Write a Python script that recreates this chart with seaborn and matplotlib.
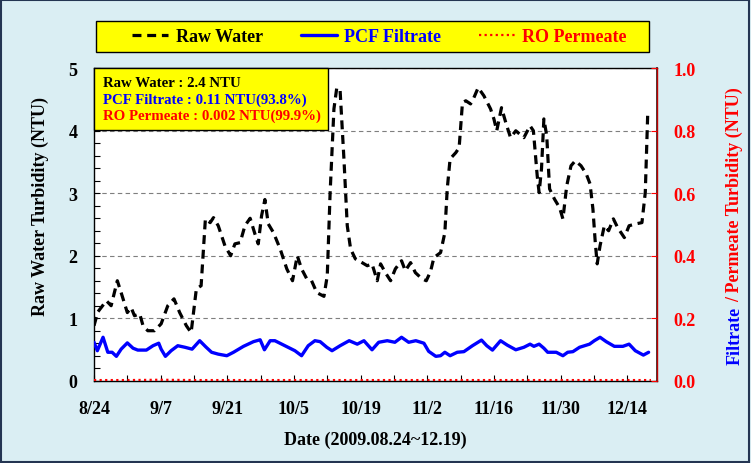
import numpy as np
import pandas as pd
import matplotlib
matplotlib.use("Agg")
import matplotlib.pyplot as plt
import seaborn as sns
from matplotlib.lines import Line2D
from matplotlib.patches import Rectangle
from matplotlib.ticker import MultipleLocator
from matplotlib.font_manager import FontProperties

# ---------------- data ----------------
start_date = "2009-08-24"

raw_days = [0, 0.8, 2.6, 3.6, 4.9, 5.7, 7.0, 7.8, 8.5, 9.6,
            10.3, 11.3, 12.7, 14.1, 15.5, 16.8, 18.0, 19.4, 20.4, 21.5,
            22.5, 23.4, 24.4, 25.1, 26.1, 27.5, 28.7, 29.6, 30.7, 31.7,
            32.8, 33.8, 34.5, 35.2, 35.9, 36.6, 37.7, 39.1, 40.5, 41.7,
            42.7, 43.6, 44.7, 45.7, 46.8, 48.3, 49.0, 49.6, 50.4, 51.0,
            51.7, 52.5, 53.2, 53.9, 54.9, 56.3, 57.4, 58.4, 59.5, 60.2,
            61.2, 62.3, 63.3, 64.6, 65.4, 66.5, 67.5, 68.9, 69.8, 70.7,
            71.4, 72.8, 73.7, 74.2, 74.8, 76.0, 76.7, 77.4, 78.1, 79.1,
            79.8, 80.7, 81.9, 83.3, 84.0, 84.6, 85.6, 86.5, 87.5, 88.6,
            90.3, 91.6, 92.3, 93.1, 93.5, 94.0, 94.5, 95.1, 95.7, 96.7,
            97.8, 98.5, 99.3, 100.2, 101.1, 102.3, 103.4, 104.2, 104.8, 105.3,
            105.7, 106.3, 107.2, 108.1, 109.1, 110.0, 111.4, 112.4, 113.8, 115.1,
            115.8, 116.3]
raw_ntu = [0.88, 1.1, 1.28, 1.2, 1.6, 1.41, 1.09, 1.17, 1.04, 1.07,
           0.88, 0.8, 0.8, 0.91, 1.2, 1.31, 1.09, 0.88, 0.77, 1.47,
           1.52, 2.59, 2.53, 2.61, 2.48, 2.16, 2.0, 2.19, 2.21, 2.48,
           2.6, 2.35, 2.19, 2.64, 2.9, 2.51, 2.37, 2.11, 1.79, 1.6,
           2.0, 1.79, 1.63, 1.6, 1.41, 1.35, 1.68, 3.01, 4.35, 4.69,
           4.64, 3.55, 2.48, 2.11, 1.95, 1.89, 1.84, 1.87, 1.6, 1.87,
           1.73, 1.6, 1.79, 1.92, 1.76, 1.89, 1.73, 1.63, 1.6, 1.75,
           1.97, 2.05, 2.37, 3.07, 3.55, 3.65, 3.73, 4.45, 4.48, 4.43,
           4.53, 4.69, 4.56, 4.35, 4.19, 4.0, 4.37, 4.13, 3.89, 4.0,
           3.89, 4.08, 4.0, 3.28, 3.01, 3.39, 4.19, 3.92, 3.07, 2.91,
           2.77, 2.59, 3.12, 3.44, 3.52, 3.44, 3.31, 3.15, 2.75, 2.21,
           1.87, 2.16, 2.48, 2.4, 2.59, 2.45, 2.29, 2.48, 2.51, 2.53,
           3.01, 4.24]

pcf_days = [0, 0.7, 1.9, 2.9, 3.8, 4.7, 5.7, 7.0, 8.2, 9.2,
            11.0, 12.4, 13.6, 14.1, 15.0, 16.2, 17.6, 19.1, 20.6, 22.2,
            23.5, 24.7, 26.1, 27.9, 29.3, 31.4, 33.5, 34.9, 35.8, 37.0,
            38.0, 40.1, 42.2, 43.6, 45.0, 46.4, 47.5, 48.9, 50.0, 51.7,
            53.6, 55.3, 56.7, 58.4, 59.8, 61.6, 63.2, 64.6, 66.1, 67.6,
            69.3, 70.3, 71.8, 72.8, 73.7, 74.8, 76.3, 77.7, 79.5, 81.4,
            82.5, 83.7, 85.4, 86.8, 88.6, 90.3, 91.6, 92.4, 93.5, 94.5,
            95.3, 97.1, 98.5, 99.5, 100.6, 102.0, 104.1, 105.1, 106.3, 107.6,
            109.3, 111.1, 112.4, 113.7, 115.4, 116.5]
pcf_ntu = [0.123, 0.096, 0.139, 0.091, 0.091, 0.078, 0.101, 0.121, 0.104, 0.098,
           0.098, 0.112, 0.120, 0.101, 0.078, 0.096, 0.112, 0.107, 0.101, 0.128,
           0.108, 0.091, 0.085, 0.080, 0.091, 0.110, 0.125, 0.131, 0.099, 0.128,
           0.128, 0.112, 0.096, 0.080, 0.112, 0.128, 0.125, 0.107, 0.096, 0.112,
           0.128, 0.117, 0.128, 0.099, 0.123, 0.128, 0.123, 0.139, 0.123, 0.128,
           0.120, 0.094, 0.078, 0.080, 0.091, 0.080, 0.091, 0.093, 0.112, 0.130,
           0.112, 0.098, 0.128, 0.114, 0.099, 0.107, 0.117, 0.110, 0.117, 0.104,
           0.091, 0.091, 0.080, 0.091, 0.093, 0.107, 0.117, 0.128, 0.139, 0.125,
           0.110, 0.110, 0.117, 0.096, 0.082, 0.091]

ro_days = [0, 7, 14, 21, 28, 35, 42, 49, 56, 63, 70, 77, 84, 91, 98, 105, 112, 117]
ro_ntu = [0.002, 0.002, 0.003, 0.002, 0.002, 0.002, 0.002, 0.002, 0.002,
          0.002, 0.002, 0.002, 0.002, 0.002, 0.002, 0.002, 0.002, 0.002]

series_names = ["Raw Water", "PCF Filtrate", "RO Permeate"]
x_tick_labels = ["8/24", "9/7", "9/21", "10/5", "10/19", "11/2", "11/16", "11/30", "12/14"]
left_ticks = [0, 1, 2, 3, 4, 5]
right_ticks = [0.0, 0.2, 0.4, 0.6, 0.8, 1.0]
summary_lines = ["Raw Water : 2.4 NTU",
                 "PCF Filtrate : 0.11 NTU(93.8%)",
                 "RO Permeate : 0.002 NTU(99.9%)"]

# ---------------- style ----------------
sns.set_theme(style="white")
plt.rcParams["font.family"] = ["Liberation Serif", "DejaVu Serif"]
plt.rcParams["font.weight"] = "bold"
plt.rcParams["text.color"] = "black"
plt.rcParams["axes.labelcolor"] = "black"

BG = "#DAEEF3"
YEL = "#FFFF00"
BLUE = "#0000FF"
RED = "#FF0000"
W, H = 751, 464

start = pd.Timestamp(start_date)
def to_dates(days):
    return start + pd.to_timedelta(np.asarray(days, dtype=float), unit="D")

raw_df = pd.DataFrame({"date": to_dates(raw_days), "ntu": raw_ntu})
pcf_df = pd.DataFrame({"date": to_dates(pcf_days), "ntu": pcf_ntu})
ro_df = pd.DataFrame({"date": to_dates(ro_days), "ntu": ro_ntu})

fig = plt.figure(figsize=(W / 100, H / 100), dpi=100, facecolor=BG)
ax = fig.add_axes([94 / W, 1 - 381.7 / H, 562.7 / W, 312.4 / H])
ax.set_facecolor("white")
ax2 = ax.twinx()

raw_dash = (0, (2.8, 1.8))
sns.lineplot(data=raw_df, x="date", y="ntu", ax=ax, color="black", lw=2.3,
             estimator=None, sort=False, zorder=4)
ax.lines[-1].set_linestyle(raw_dash)

sns.lineplot(data=pcf_df, x="date", y="ntu", ax=ax2, color=BLUE, lw=2.4,
             estimator=None, sort=False, zorder=4)
sns.lineplot(data=ro_df, x="date", y="ntu", ax=ax2, color=RED, lw=1.6,
             estimator=None, sort=False, zorder=5)
ax2.lines[-1].set_linestyle((0, (1, 1.5)))

# limits and ticks
xmin = start
xmax = start + pd.Timedelta(days=118.2)
ax.set_xlim(xmin, xmax)
major_dates = [start + pd.Timedelta(days=14 * i) for i in range(len(x_tick_labels))]
minor_dates = [start + pd.Timedelta(days=7 * i) for i in range(17)]
ax.set_xticks(major_dates)
ax.set_xticklabels(x_tick_labels)
ax.set_xticks(minor_dates, minor=True)

ax.set_ylim(0, 5)
ax.set_yticks(left_ticks)
ax.set_yticklabels([str(t) for t in left_ticks])
ax.yaxis.set_minor_locator(MultipleLocator(0.2))

ax2.set_ylim(0, 1)
ax2.set_yticks(right_ticks)
ax2.set_yticklabels([f"{t:.1f}" for t in right_ticks])

ax.tick_params(axis="both", which="both", direction="in", length=4.5, width=0.8,
               colors="black", labelsize=13, bottom=True, left=True)
ax.tick_params(axis="x", which="major", pad=14)
ax.tick_params(axis="y", which="major", pad=12)
ax2.tick_params(axis="y", which="both", direction="in", length=4.5, width=0.8,
                colors=RED, labelsize=13, pad=12, right=True)
for lab in ax.get_xticklabels() + ax.get_yticklabels() + ax2.get_yticklabels():
    lab.set_fontweight("bold")

# grid
ax.yaxis.grid(True, which="major", linestyle=(0, (4, 3)), color="#7f7f7f", lw=0.8)
ax.xaxis.grid(False)
ax.set_axisbelow(True)

# spines
for s in ["left", "bottom", "top"]:
    ax.spines[s].set_color("black")
    ax.spines[s].set_linewidth(1.0)
for s in ["left", "bottom", "top"]:
    ax2.spines[s].set_visible(False)
ax2.spines["right"].set_color("#C00000")
ax2.spines["right"].set_linewidth(1.0)

# labels
ax.set_xlabel("Date (2009.08.24~12.19)", fontsize=13, fontweight="bold", va="center", color="black")
ax.xaxis.set_label_coords(0.5, (381.7 - 440) / 312.4)
ax.set_ylabel("Raw Water Turbidity (NTU)", fontsize=13, fontweight="bold", va="center", color="black")
ax.yaxis.set_label_coords((40 - 94) / 562.7, (381.7 - 206) / 312.4)
ax2.set_ylabel("")

# summary box
ax.add_patch(Rectangle((0, (381.7 - 130.5) / 312.4), (328 - 94) / 562.7, 1 - (381.7 - 130.5) / 312.4,
                       transform=ax.transAxes, facecolor=YEL, edgecolor="black", lw=1.0,
                       zorder=3, clip_on=False))
for txt, col, yy in zip(summary_lines, ["black", BLUE, RED], [83.3, 100.7, 116.7]):
    ax.text((103 - 94) / 562.7, (381.7 - yy) / 312.4, txt, transform=ax.transAxes,
            color=col, fontsize=10.7, fontweight="bold", va="center", ha="left", zorder=6)

# legend box at top
fig.add_artist(Rectangle((96 / W, 1 - 53 / H), 553 / W, 31 / H, transform=fig.transFigure,
                         facecolor=YEL, edgecolor="black", lw=1.0))
handles = [Line2D([], [], color="black", lw=2.3, linestyle=raw_dash),
           Line2D([], [], color=BLUE, lw=2.4),
           Line2D([], [], color=RED, lw=1.6, linestyle=(0, (1, 1.5)))]
leg = fig.legend(handles, series_names, loc="center", bbox_to_anchor=(379.5 / W, 1 - 37.5 / H),
                 ncol=3, frameon=False, prop=FontProperties(family=["Liberation Serif", "DejaVu Serif"],
                                                            weight="bold", size=13),
                 handlelength=2.0, handletextpad=0.4, columnspacing=2.1,
                 labelcolor=["black", BLUE, RED])

# two-coloured right axis label
fp = dict(fontsize=13, fontweight="bold", rotation=90, ha="center", va="bottom")
t1 = fig.text(735 / W, 1 - 365 / H, "Filtrate", color=BLUE, **fp)
fig.canvas.draw()
bb = t1.get_window_extent(renderer=fig.canvas.get_renderer())
top_frac = (bb.y1 + 4.5) / (H)
fig.text(735 / W, top_frac, "/ Permeate Turbidity (NTU)", color=RED, **fp)

# figure border
fig.add_artist(Rectangle((0.001, 0.002), 0.997, 0.996, transform=fig.transFigure,
                         fill=False, edgecolor="#243552", lw=1.5))

fig.savefig("out.png", dpi=100, facecolor=BG)
